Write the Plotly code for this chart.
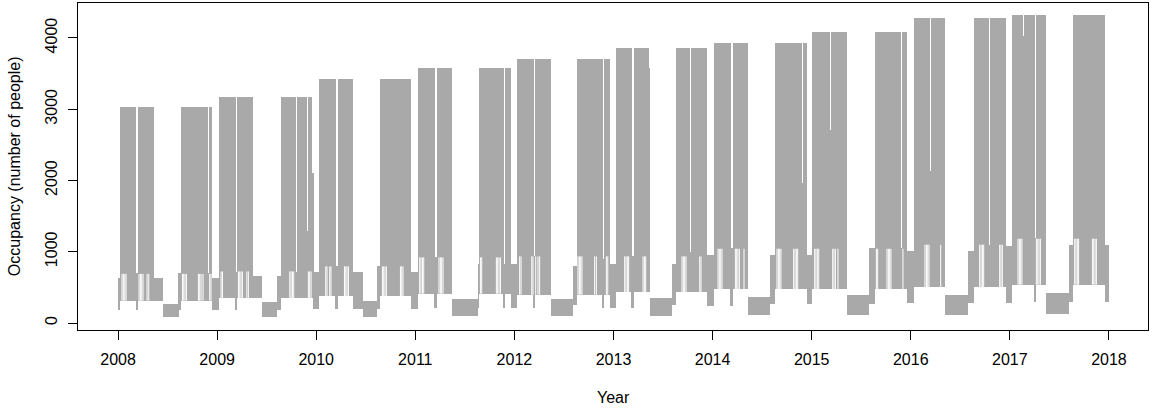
import plotly.graph_objects as go

# Segments of the occupancy record (decimal years), with the low and high
# occupancy reached by the hourly trace in each segment.
seg_start = [
    2008.000, 2008.017, 2008.186, 2008.206, 2008.360, 2008.454, 2008.613, 2008.633, 2008.908, 2008.915, 2008.953,
    2009.016, 2009.188, 2009.198, 2009.359, 2009.450, 2009.601, 2009.642, 2009.796, 2009.803, 2009.907, 2009.917, 2009.958, 2009.968,
    2010.025, 2010.197, 2010.217, 2010.368, 2010.469, 2010.618, 2010.641, 2010.961,
    2011.027, 2011.196, 2011.216, 2011.367, 2011.633, 2011.640, 2011.892, 2011.902, 2011.963,
    2012.023, 2012.195, 2012.205, 2012.366, 2012.591, 2012.629, 2012.894, 2012.901, 2012.962,
    2013.022, 2013.184, 2013.204, 2013.355, 2013.365, 2013.590, 2013.628, 2013.776, 2013.786, 2013.948,
    2014.011, 2014.183, 2014.203, 2014.354, 2014.583, 2014.627, 2014.902, 2014.912, 2014.953,
    2015.007, 2015.182, 2015.192, 2015.353, 2015.575, 2015.636, 2015.898, 2015.908, 2015.962,
    2016.029, 2016.191, 2016.201, 2016.349, 2016.574, 2016.635, 2016.786, 2016.796, 2016.958,
    2017.019, 2017.130, 2017.140, 2017.251, 2017.261, 2017.362, 2017.594, 2017.634, 2017.957,
]
seg_end = [
    2008.017, 2008.186, 2008.206, 2008.360, 2008.454, 2008.613, 2008.633, 2008.908, 2008.915, 2008.953, 2009.016,
    2009.188, 2009.198, 2009.359, 2009.450, 2009.601, 2009.642, 2009.796, 2009.803, 2009.907, 2009.917, 2009.958, 2009.968, 2010.025,
    2010.197, 2010.217, 2010.368, 2010.469, 2010.618, 2010.641, 2010.961, 2011.027,
    2011.196, 2011.216, 2011.367, 2011.633, 2011.640, 2011.892, 2011.902, 2011.963, 2012.023,
    2012.195, 2012.205, 2012.366, 2012.591, 2012.629, 2012.894, 2012.901, 2012.962, 2013.022,
    2013.184, 2013.204, 2013.355, 2013.365, 2013.590, 2013.628, 2013.776, 2013.786, 2013.948, 2014.011,
    2014.183, 2014.203, 2014.354, 2014.583, 2014.627, 2014.902, 2014.912, 2014.953, 2015.007,
    2015.182, 2015.192, 2015.353, 2015.575, 2015.636, 2015.898, 2015.908, 2015.962, 2016.029,
    2016.191, 2016.201, 2016.349, 2016.574, 2016.635, 2016.786, 2016.796, 2016.958, 2017.019,
    2017.130, 2017.140, 2017.251, 2017.261, 2017.362, 2017.594, 2017.634, 2017.957, 2017.997,
]
seg_low = [
    177, 313, 177, 313, 313, 79, 177, 313, 313, 313, 177,
    345, 177, 345, 345, 79, 177, 345, 345, 345, 345, 345, 345, 191,
    373, 191, 373, 191, 79, 191, 373, 191,
    411, 215, 411, 93, 215, 411, 215, 411, 215,
    397, 215, 397, 93, 250, 397, 215, 397, 215,
    430, 215, 430, 430, 93, 250, 430, 430, 430, 233,
    472, 233, 472, 107, 261, 472, 472, 472, 261,
    472, 472, 472, 107, 261, 472, 472, 472, 275,
    500, 500, 500, 107, 285, 500, 500, 500, 275,
    538, 538, 538, 300, 538, 121, 290, 538, 290,
]
seg_high = [
    636, 3036, 705, 3036, 636, 271, 705, 3036, 705, 3036, 636,
    3175, 720, 3175, 664, 289, 664, 3175, 720, 3175, 1286, 3175, 2109, 720,
    3428, 795, 3428, 720, 313, 795, 3428, 720,
    3583, 921, 3583, 340, 833, 3583, 833, 3583, 833,
    3710, 935, 3710, 340, 800, 3710, 900, 3710, 823,
    3864, 935, 3864, 3583, 354, 830, 3864, 1000, 3864, 958,
    3934, 1052, 3934, 369, 958, 3934, 1965, 3934, 958,
    4088, 2711, 4088, 387, 1052, 4088, 1052, 4088, 1005,
    4285, 2128, 4285, 397, 1005, 4285, 1099, 4285, 1075,
    4323, 4022, 4323, 1193, 4323, 425, 1099, 4323, 1099,
]

# Weekend hours inside the terms: the trace stays between these values,
# leaving thin unfilled columns near the bottom of each block.
gap_x = [
    2008.040, 2008.054, 2008.068, 2008.081, 2008.212, 2008.226, 2008.239, 2008.252, 2008.293, 2008.310,
    2008.650, 2008.663, 2008.676, 2008.690, 2008.811, 2008.824, 2008.838, 2008.858, 2008.925, 2008.938,
    2009.040, 2009.054, 2009.215, 2009.228, 2009.241, 2009.255, 2009.300, 2009.315,
    2009.733, 2009.746, 2009.760, 2009.773, 2009.921, 2009.934, 2009.948,
    2010.096, 2010.109, 2010.136, 2010.149, 2010.285, 2010.298, 2010.311, 2010.325,
    2010.668, 2010.681, 2010.694, 2010.708, 2010.850, 2010.863, 2010.876,
    2011.044, 2011.057, 2011.072, 2011.085, 2011.239, 2011.253, 2011.266, 2011.280,
    2011.657, 2011.670, 2011.818, 2011.831, 2011.845, 2011.859,
    2012.053, 2012.067, 2012.175, 2012.188, 2012.215, 2012.238, 2012.255,
    2012.642, 2012.656, 2012.669, 2012.682, 2012.810, 2012.827, 2012.928, 2012.942,
    2013.113, 2013.126, 2013.140, 2013.153, 2013.298, 2013.312, 2013.325,
    2013.691, 2013.705, 2013.718, 2013.732, 2013.870, 2013.883,
    2014.055, 2014.068, 2014.082, 2014.095, 2014.230, 2014.243, 2014.256, 2014.270, 2014.317,
    2014.650, 2014.664, 2014.677, 2014.690, 2014.818, 2014.832, 2014.846, 2014.859,
    2015.030, 2015.043, 2015.057, 2015.071, 2015.212, 2015.225, 2015.239, 2015.265,
    2015.653, 2015.666, 2015.760, 2015.774, 2015.787, 2015.800, 2015.921,
    2016.143, 2016.158, 2016.171, 2016.184, 2016.302,
    2016.695, 2016.709, 2016.723, 2016.736, 2016.897, 2016.910, 2016.924,
    2017.082, 2017.096, 2017.109, 2017.122, 2017.267, 2017.281, 2017.294, 2017.308,
    2017.654, 2017.667, 2017.681, 2017.694, 2017.833, 2017.846, 2017.860, 2017.873,
]
gap_low = (
    [313] * 20 + [345] * 15 + [373] * 15 + [411] * 14 + [397] * 15
    + [430] * 13 + [472] * 17 + [472] * 15 + [500] * 12 + [538] * 16
)
gap_high = (
    [690] * 20 + [724] * 15 + [795] * 15 + [921] * 14 + [935] * 15
    + [935] * 13 + [1042] * 17 + [1042] * 15 + [1099] * 12 + [1183] * 16
)

x_ticks = [2008, 2009, 2010, 2011, 2012, 2013, 2014, 2015, 2016, 2017, 2018]
y_ticks = [0, 1000, 2000, 3000, 4000]

mid = [(a + b) / 2 for a, b in zip(seg_start, seg_end)]
wid = [b - a for a, b in zip(seg_start, seg_end)]
span = [h - l for l, h in zip(seg_low, seg_high)]

fig = go.Figure()
fig.add_trace(go.Bar(
    x=mid, y=span, base=seg_low, width=wid,
    marker=dict(color="#A9A9A9", line=dict(width=0)),
    hoverinfo="skip", showlegend=False,
))

# thin white weekend columns as vertical line pieces
gx, gy = [], []
for x, lo, hi in zip(gap_x, gap_low, gap_high):
    gx += [x, x, None]
    gy += [lo, hi, None]
fig.add_trace(go.Scatter(
    x=gx, y=gy, mode="lines", line=dict(color="white", width=1),
    hoverinfo="skip", showlegend=False, connectgaps=False,
))

font = dict(family="Liberation Sans, Arial, sans-serif", size=16, color="black")
fig.update_layout(
    width=1154, height=410,
    margin=dict(l=78, r=6, t=3, b=80),
    paper_bgcolor="white", plot_bgcolor="white",
    barmode="overlay", bargap=0,
    font=font,
    xaxis=dict(
        range=[2007.596, 2018.394], tickmode="array", tickvals=x_ticks,
        ticktext=[str(v) for v in x_ticks],
        showgrid=False, zeroline=False, automargin=False,
        showline=True, linecolor="black", linewidth=1, mirror=True,
        ticks="outside", ticklen=9, tickcolor="black", tickwidth=1,
        ticklabelstandoff=6,
    ),
    yaxis=dict(
        range=[-98, 4491], tickmode="array", tickvals=y_ticks,
        ticktext=[str(v) for v in y_ticks],
        showgrid=False, zeroline=False, automargin=False,
        showline=True, linecolor="black", linewidth=1, mirror=True,
        ticks="outside", ticklen=9, tickcolor="black", tickwidth=1,
        tickangle=-90, ticklabelstandoff=5,
    ),
    annotations=[
        dict(text="Year", xref="paper", yref="paper", x=0.5, y=-0.207,
             xanchor="center", yanchor="middle", showarrow=False, font=font),
        dict(text="Occupancy (number of people)", xref="paper", yref="paper",
             x=-0.0592, y=0.5, textangle=-90, xanchor="center", yanchor="middle",
             showarrow=False, font=font),
    ],
)

fig.write_html(
    "out.html",
    config={"displayModeBar": False},
    post_script="document.body.style.margin='0';document.body.style.overflow='hidden';",
)
